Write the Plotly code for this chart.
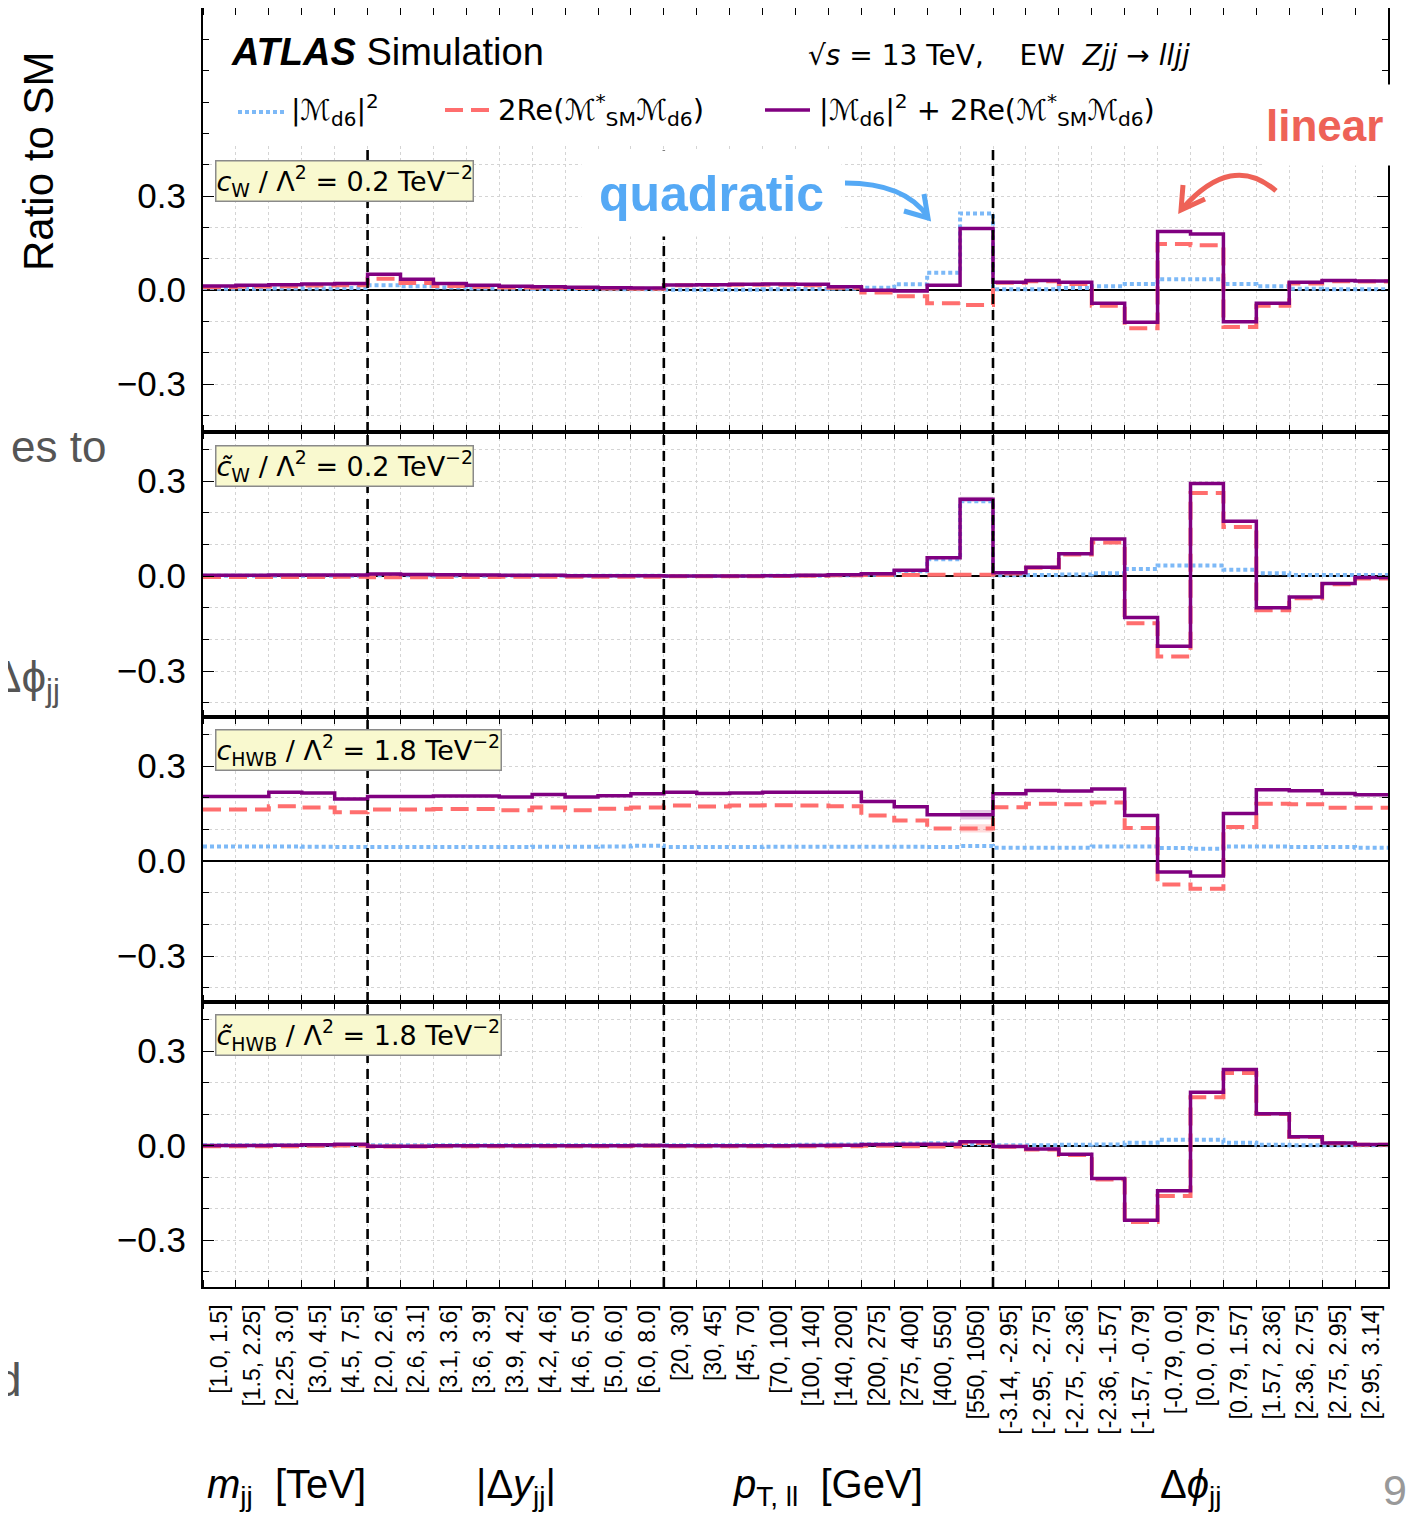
import plotly.graph_objects as go

W, H = 1419, 1513
OX, OY = 8, 8          # page body margin of the html page
WF, HF = W - OX, H - OY

# ---------------- data ----------------
bin_labels = [
    "[1.0, 1.5]", "[1.5, 2.25]", "[2.25, 3.0]", "[3.0, 4.5]", "[4.5, 7.5]",
    "[2.0, 2.6]", "[2.6, 3.1]", "[3.1, 3.6]", "[3.6, 3.9]", "[3.9, 4.2]", "[4.2, 4.6]",
    "[4.6, 5.0]", "[5.0, 6.0]", "[6.0, 8.0]",
    "[20, 30]", "[30, 45]", "[45, 70]", "[70, 100]", "[100, 140]", "[140, 200]",
    "[200, 275]", "[275, 400]", "[400, 550]", "[550, 1050]",
    "[-3.14, -2.95]", "[-2.95, -2.75]", "[-2.75, -2.36]", "[-2.36, -1.57]", "[-1.57, -0.79]",
    "[-0.79, 0.0]", "[0.0, 0.79]", "[0.79, 1.57]", "[1.57, 2.36]", "[2.36, 2.75]",
    "[2.75, 2.95]", "[2.95, 3.14]",
]
group_boundaries = [5, 14, 24]
y_ticks = [-0.3, 0.0, 0.3]
y_ticktext = ["−0.3", "0.0", "0.3"]

# c_W / Lambda^2 = 0.2
cw_quad = [0.004, 0.004, 0.005, 0.005, 0.006,
           0.015, 0.012, 0.008, 0.005, 0.004, 0.003, 0.003, 0.002, 0.002,
           0.001, 0.001, 0.001, 0.002, 0.003, 0.004, 0.007, 0.018, 0.055, 0.244,
           0.002, 0.002, 0.006, 0.012, 0.019, 0.034, 0.034, 0.019, 0.012, 0.004, 0.002, 0.002]
cw_lin = [0.009, 0.011, 0.012, 0.014, 0.015,
          0.036, 0.022, 0.013, 0.010, 0.008, 0.007, 0.006, 0.005, 0.004,
          0.015, 0.016, 0.017, 0.017, 0.015, 0.007, -0.008, -0.020, -0.042, -0.048,
          0.023, 0.028, 0.019, -0.050, -0.122, 0.147, 0.143, -0.118, -0.050, 0.021, 0.028, 0.027]
cw_full = [0.013, 0.015, 0.017, 0.019, 0.021,
           0.050, 0.034, 0.021, 0.015, 0.012, 0.010, 0.009, 0.007, 0.006,
           0.016, 0.017, 0.018, 0.019, 0.018, 0.010, -0.001, -0.003, 0.015, 0.196,
           0.025, 0.030, 0.025, -0.042, -0.103, 0.187, 0.179, -0.101, -0.042, 0.025, 0.030, 0.029]

# c~_W / Lambda^2 = 0.2
cwt_quad = [0.001, 0.001, 0.001, 0.001, 0.001,
            0.002, 0.002, 0.001, 0.001, 0.001, 0.001, 0.001, 0.001, 0.001,
            0.000, 0.000, 0.000, 0.001, 0.001, 0.002, 0.004, 0.015, 0.053, 0.236,
            0.002, 0.003, 0.005, 0.009, 0.022, 0.033, 0.033, 0.020, 0.009, 0.003, 0.003, 0.003]
cwt_lin = [-0.003, -0.003, -0.003, -0.003, -0.002,
           -0.004, -0.004, -0.003, -0.003, -0.002, -0.002, -0.002, -0.002, -0.002,
           -0.001, -0.001, -0.001, 0.000, 0.001, 0.002, 0.003, 0.003, 0.004, 0.004,
           0.008, 0.026, 0.068, 0.106, -0.149, -0.254, 0.262, 0.155, -0.108, -0.070, -0.026, -0.008]
cwt_full = [0.002, 0.002, 0.003, 0.003, 0.003,
            0.006, 0.005, 0.004, 0.003, 0.002, 0.002, 0.001, 0.001, 0.001,
            0.000, 0.000, 0.000, 0.001, 0.002, 0.004, 0.007, 0.018, 0.058, 0.242,
            0.010, 0.028, 0.070, 0.117, -0.131, -0.222, 0.292, 0.173, -0.100, -0.066, -0.024, -0.005]
cwt_full_unc = [0.0] * 23 + [0.008] + [0.0] * 12

# c_HWB / Lambda^2 = 1.8
chwb_quad = [0.046, 0.046, 0.046, 0.045, 0.044,
             0.044, 0.044, 0.044, 0.044, 0.044, 0.045, 0.045, 0.046, 0.048,
             0.044, 0.044, 0.044, 0.045, 0.045, 0.045, 0.045, 0.045, 0.044, 0.047,
             0.042, 0.042, 0.042, 0.046, 0.046, 0.041, 0.039, 0.046, 0.046, 0.044, 0.044, 0.042]
chwb_lin = [0.163, 0.163, 0.173, 0.169, 0.154,
            0.163, 0.163, 0.164, 0.164, 0.160, 0.169, 0.160, 0.165, 0.169,
            0.175, 0.172, 0.175, 0.176, 0.175, 0.173, 0.144, 0.128, 0.103, 0.103,
            0.170, 0.181, 0.179, 0.185, 0.104, -0.074, -0.088, 0.107, 0.181, 0.179, 0.168, 0.168]
chwb_full = [0.204, 0.204, 0.217, 0.215, 0.196,
             0.204, 0.204, 0.205, 0.205, 0.202, 0.210, 0.202, 0.206, 0.212,
             0.217, 0.213, 0.215, 0.217, 0.217, 0.217, 0.188, 0.171, 0.146, 0.146,
             0.212, 0.223, 0.221, 0.227, 0.144, -0.035, -0.047, 0.150, 0.225, 0.222, 0.213, 0.209]
chwb_full_unc = [0.0] * 23 + [0.015] + [0.0] * 12
chwb_lin_unc = [0.0] * 23 + [0.013] + [0.0] * 12

# c~_HWB / Lambda^2 = 1.8
chwbt_quad = [0.001, 0.001, 0.001, 0.001, 0.001,
              0.001, 0.001, 0.001, 0.001, 0.001, 0.001, 0.001, 0.001, 0.001,
              0.001, 0.001, 0.001, 0.001, 0.002, 0.003, 0.004, 0.006, 0.007, 0.004,
              0.001, 0.001, 0.002, 0.003, 0.009, 0.018, 0.018, 0.009, 0.002, 0.001, 0.001, 0.001]
chwbt_lin = [-0.002, -0.002, -0.002, -0.001, 0.000,
             -0.003, -0.003, -0.002, -0.002, -0.002, -0.002, -0.002, -0.002, -0.001,
             -0.002, -0.002, -0.002, -0.002, -0.002, -0.002, -0.001, -0.002, -0.003, 0.008,
             -0.004, -0.013, -0.030, -0.108, -0.243, -0.160, 0.153, 0.230, 0.100, 0.027, 0.007, 0.002]
chwbt_full = [0.000, 0.000, 0.001, 0.002, 0.004,
              -0.002, -0.002, -0.001, -0.001, -0.001, -0.001, -0.001, -0.001, 0.000,
              -0.001, -0.001, -0.001, -0.001, 0.000, 0.001, 0.003, 0.004, 0.004, 0.012,
              -0.003, -0.011, -0.028, -0.105, -0.237, -0.144, 0.169, 0.241, 0.101, 0.028, 0.008, 0.003]

panel_data = [
    (cw_quad, cw_lin, cw_full),
    (cwt_quad, cwt_lin, cwt_full),
    (chwb_quad, chwb_lin, chwb_full),
    (chwbt_quad, chwbt_lin, chwbt_full),
]
# (panel index, central values, uncertainty, colour)
unc_bands = [
    (1, cwt_full, cwt_full_unc, "rgba(128,0,128,0.22)"),
    (2, chwb_full, chwb_full_unc, "rgba(128,0,128,0.22)"),
    (2, chwb_lin, chwb_lin_unc, "rgba(255,110,110,0.25)"),
]
panel_titles = [
    "<i>c</i><sub>W</sub> / Λ<sup>2</sup> = 0.2 TeV<sup>−2</sup>",
    "<i>c̃</i><sub>W</sub> / Λ<sup>2</sup> = 0.2 TeV<sup>−2</sup>",
    "<i>c</i><sub>HWB</sub> / Λ<sup>2</sup> = 1.8 TeV<sup>−2</sup>",
    "<i>c̃</i><sub>HWB</sub> / Λ<sup>2</sup> = 1.8 TeV<sup>−2</sup>",
]
series_names = ["|ℳ<sub>d6</sub>|<sup>2</sup>",
                "2Re(ℳ<sup>*</sup><sub>SM</sub>ℳ<sub>d6</sub>)",
                "|ℳ<sub>d6</sub>|<sup>2</sup> + 2Re(ℳ<sup>*</sup><sub>SM</sub>ℳ<sub>d6</sub>)"]

# ---------------- styling ----------------
BLUE = "#7DB9F7"
RED = "#FF6E6E"
PURPLE = "#800080"
GRID = "#d4d4d4"
FONT = "Liberation Sans, Arial, sans-serif"
MATHFONT = "DejaVu Sans, sans-serif"


def fx(x):
    return (x - OX) / WF


def fy(y):
    return 1 - (y - OY) / HF


panel_px = [(8, 432), (432, 717), (717, 1002), (1002, 1287)]
zero_px = [290, 576, 861, 1145.5]
px_per_03 = [94.0, 95.0, 95.0, 94.5]

n = len(bin_labels)
edges = list(range(n + 1))
centers = [i + 0.5 for i in range(n)]

fig = go.Figure()


def axnames(p):
    return ("x" if p == 0 else f"x{p+1}"), ("y" if p == 0 else f"y{p+1}")


# uncertainty bands
for p, vals, unc, col in unc_bands:
    xa, ya = axnames(p)
    fig.add_trace(go.Bar(
        x=centers, y=[2 * u for u in unc], base=[v - u for v, u in zip(vals, unc)],
        width=1, marker=dict(color=col, line=dict(width=0)),
        xaxis=xa, yaxis=ya, showlegend=False, hoverinfo="skip",
    ))

styles = [
    dict(color=BLUE, width=4, dash="4px,3px"),
    dict(color=RED, width=4, dash="18px,8px"),
    dict(color=PURPLE, width=3.5),
]

for p, series in enumerate(panel_data):
    xa, ya = axnames(p)
    for s, vals in enumerate(series):
        fig.add_trace(go.Scatter(
            x=edges, y=list(vals) + [vals[-1]],
            mode="lines", line_shape="hv",
            line=styles[s], name=series_names[s],
            showlegend=False, xaxis=xa, yaxis=ya,
            hoverinfo="skip",
        ))

layout = dict(
    width=WF, height=HF,
    margin=dict(l=0, r=0, t=0, b=0),
    paper_bgcolor="white", plot_bgcolor="white",
    showlegend=False, barmode="overlay",
    font=dict(family=FONT, color="black"),
)

ranges = []
for p in range(4):
    top_px, bot_px = panel_px[p]
    s = px_per_03[p]
    ytop = (zero_px[p] - top_px) / s * 0.3
    ybot = -(bot_px - zero_px[p]) / s * 0.3
    ranges.append((ybot, ytop))
    xa, ya = axnames(p)
    xk = "xaxis" if p == 0 else f"xaxis{p+1}"
    yk = "yaxis" if p == 0 else f"yaxis{p+1}"
    layout[xk] = dict(
        domain=[fx(203), fx(1388)], anchor=ya, range=[0, n],
        tickmode="array", tickvals=centers, ticktext=bin_labels,
        showticklabels=(p == 3), tickangle=-90,
        tickfont=dict(size=23, family=FONT),
        ticks="", showgrid=False, zeroline=False,
        minor=dict(tickmode="linear", tick0=0, dtick=1, ticks="inside", ticklen=7,
                   tickcolor="black", tickwidth=1,
                   showgrid=True, gridcolor=GRID, griddash="dot", gridwidth=1),
        showline=True, linecolor="black", linewidth=2.2, mirror="ticks",
        automargin=False, ticklabelstandoff=6,
        fixedrange=True,
    )
    layout[yk] = dict(
        domain=[fy(bot_px), fy(top_px)], anchor=xa, range=[ybot, ytop],
        tickmode="array", tickvals=y_ticks, ticktext=y_ticktext,
        tickfont=dict(size=35, family=FONT),
        ticks="inside", ticklen=11, tickwidth=1.2, tickcolor="black",
        showgrid=True, gridcolor=GRID, griddash="dot", gridwidth=1,
        minor=dict(tickmode="linear", tick0=0, dtick=0.1, ticks="inside", ticklen=6,
                   tickcolor="black", tickwidth=1,
                   showgrid=True, gridcolor=GRID, griddash="dot", gridwidth=1),
        zeroline=True, zerolinecolor="black", zerolinewidth=1.5,
        showline=True, linecolor="black", linewidth=2.2, mirror="ticks",
        automargin=False, ticklabelstandoff=8,
        fixedrange=True,
    )

fig.update_layout(**layout)

shapes = []
# white legend area in top panel covering grid
shapes.append(dict(type="rect", xref="x", yref="y", x0=0, x1=n,
                   y0=(zero_px[0] - 145) / px_per_03[0] * 0.3, y1=ranges[0][1],
                   fillcolor="white", line=dict(width=0), layer="between"))
# dashed group separators
for p in range(4):
    xa, ya = axnames(p)
    for b in group_boundaries:
        if p == 0:
            shapes.append(dict(type="line", xref=xa, yref=ya, x0=b, x1=b,
                               y0=ranges[0][0], y1=(zero_px[0] - 148) / px_per_03[0] * 0.3,
                               line=dict(color="black", width=2.6, dash="10px,6px"), layer="above"))
        else:
            shapes.append(dict(type="line", xref=xa, yref=ya + " domain", x0=b, x1=b,
                               y0=0, y1=1,
                               line=dict(color="black", width=2.6, dash="10px,6px"), layer="above"))


# legend samples
def hline(x0, x1, y, color, dash, width):
    d = dict(type="line", xref="paper", yref="paper", x0=fx(x0), x1=fx(x1), y0=fy(y), y1=fy(y),
             line=dict(color=color, width=width), layer="above")
    if dash:
        d["line"]["dash"] = dash
    return d


shapes.append(hline(238, 285, 112, BLUE, "4px,3px", 4))
shapes.append(hline(445, 490, 110, RED, "18px,8px", 4))
shapes.append(hline(765, 810, 110, PURPLE, None, 3.5))


def P(x, y):
    return f"{fx(x):.5f},{fy(y):.5f}"


blue_arrow = f"M {P(845,183)} Q {P(905,183)} {P(928,217)}"
blue_head = f"M {P(904,211)} L {P(928,218)} L {P(924,194)}"
red_arrow = f"M {P(1276,191)} Q {P(1232,152)} {P(1182,209)}"
red_head = f"M {P(1205,199)} L {P(1181,210)} L {P(1183,185)}"
for path, col in [(blue_arrow, "#55A9F5"), (blue_head, "#55A9F5"),
                  (red_arrow, "#EE6257"), (red_head, "#EE6257")]:
    shapes.append(dict(type="path", xref="paper", yref="paper", path=path,
                       line=dict(color=col, width=5), layer="above"))

fig.update_layout(shapes=shapes)

ann = []


def A(text, x, y, size, xanchor="center", yanchor="middle", color="black", family=FONT, **kw):
    d = dict(text=text, x=fx(x), y=fy(y), xref="paper", yref="paper",
             xanchor=xanchor, yanchor=yanchor, showarrow=False,
             font=dict(size=size, color=color, family=family))
    d.update(kw)
    ann.append(d)


# header
A("<b><i>ATLAS</i></b> Simulation", 229, 52, 38, xanchor="left")
A("√<i>s</i> = 13 TeV,\u00a0\u00a0\u00a0 EW\u00a0 <i>Zjj</i> → <i>lljj</i>", 806, 55, 28,
  xanchor="left", family=MATHFONT)
A(series_names[0], 289, 110, 28.5, xanchor="left", family=MATHFONT)
A(series_names[1], 496, 110, 29, xanchor="left", family=MATHFONT)
A(series_names[2], 817, 110, 28.8, xanchor="left", family=MATHFONT)

# panel labels
label_y = [160, 445, 729, 1014]
for p in range(4):
    A(panel_titles[p], 215, label_y[p], 27, xanchor="left", yanchor="top",
      family=MATHFONT, bgcolor="#F9F9CF", bordercolor="#8a8a8a", borderwidth=1.5,
      borderpad=0)

# highlighted words
A("<b>quadratic</b>", 711, 193, 50, color="#55A9F5", bgcolor="white", width=257, height=83)
A("<b>linear</b>", 1262, 125, 44, xanchor="left", color="#EE6257",
  bgcolor="white", width=165, height=74, align="left", borderpad=3)

# y title
A("Ratio to SM", 38, 162, 42, textangle=-90)

# x group titles
A("<i>m</i><sub>jj</sub>\u00a0\u00a0[TeV]", 286, 1487, 40)
A("|Δ<i>y</i><sub>jj</sub>|", 516, 1487, 40)
A("<i>p</i><sub>T, ll</sub>\u00a0\u00a0[GeV]", 828, 1487, 40)
A("Δ<i>ϕ</i><sub>jj</sub>", 1190, 1487, 40)

# slide remnants (text of the underlying slide, partly hidden behind the figure)
A("es to", 9, 447, 44, xanchor="left", color="#555555")
A("Δϕ<sub>jj</sub>", 62, 680, 44, xanchor="right", color="#555555")
A("d", 24, 1380, 46, xanchor="right", color="#555555")
A("9", 1395, 1490, 43, color="#999999")

fig.update_layout(annotations=ann)

fig.write_html("out.html")
